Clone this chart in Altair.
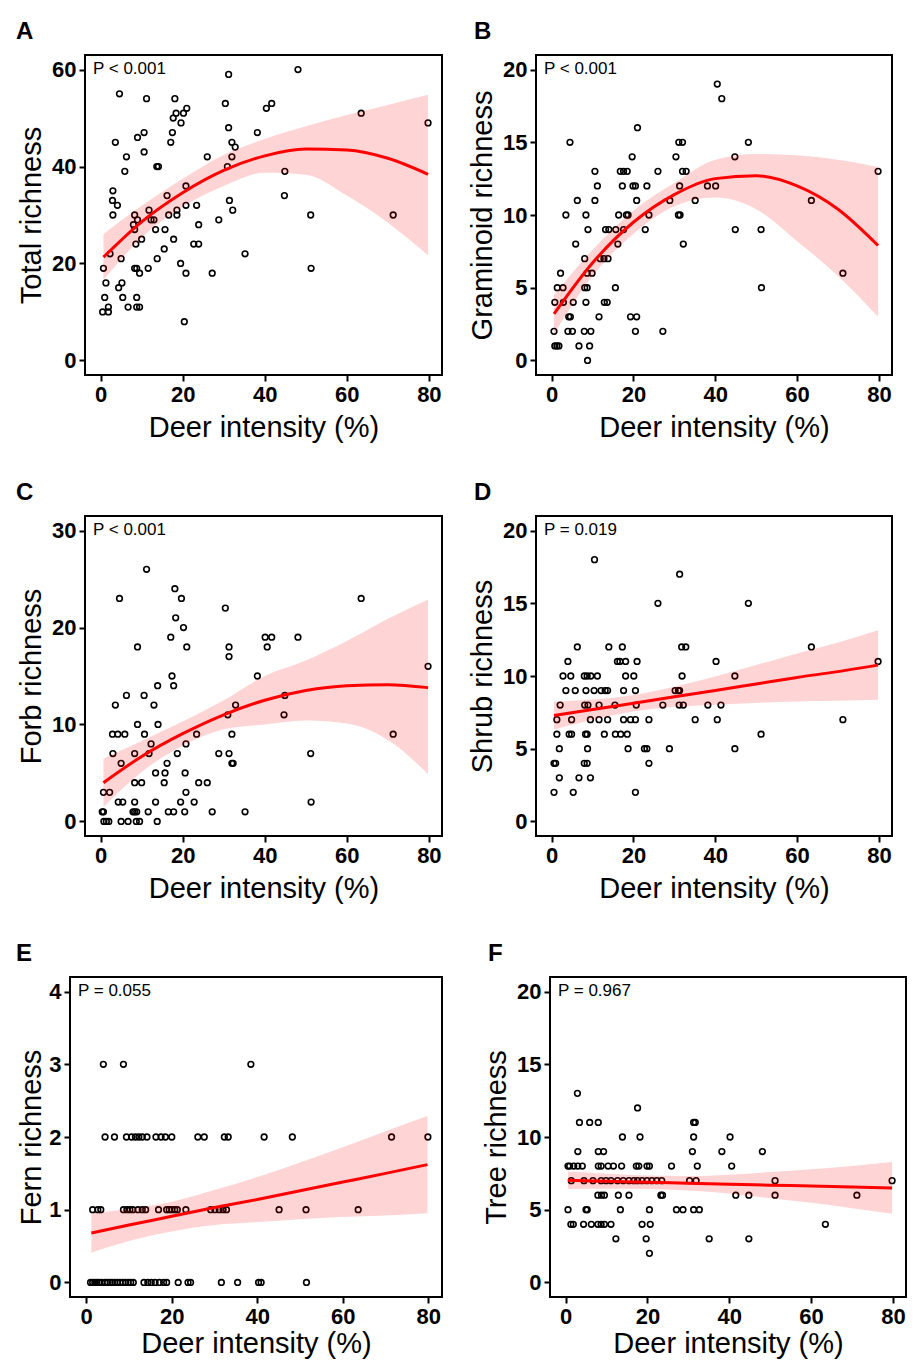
import altair as alt
import pandas as pd

FONT = "Liberation Sans"
XDOM = [-3.8, 83.2]
XTICKS = [0, 20, 40, 60, 80]
XTITLE = "Deer intensity (%)"

# ---------------- Panel A : Total richness ----------------
A_X = [31.2, 4.6, 11.2, 18.1, 30.4, 21.0, 20.2, 18.4, 17.7, 19.6, 31.2, 10.6, 17.5, 9.0, 38.2,
       3.6, 17.1, 32.0, 32.8, 10.6, 6.3, 26.0, 32.0, 13.7, 14.1, 30.9, 5.9, 20.8, 3.0, 16.2,
       2.9, 4.1, 31.4, 20.8, 23.4, 11.8, 18.6, 32.2, 3.0, 8.3, 16.6, 18.6, 9.0, 12.3, 13.0,
       28.8, 8.0, 23.9, 8.3, 13.4, 15.7, 10.0, 17.8, 8.6, 22.7, 23.9, 15.5, 2.3, 35.2, 5.0,
       13.8, 0.7, 8.3, 8.8, 11.6, 19.5, 9.5, 20.8, 27.2, 1.3, 5.2, 4.4, 1.0, 5.4, 8.8,
       1.9, 6.7, 8.8, 9.5, 0.5, 1.9, 20.4, 40.4, 41.7, 48.1, 63.5, 79.8, 44.9, 44.8, 51.2,
       71.3, 51.3]
A_Y = [59, 55, 54, 54, 53, 52, 51, 51, 50, 49, 48, 47, 47, 46, 47,
       45, 45, 45, 44, 43, 42, 42, 42, 40, 40, 40, 39, 36, 35, 34,
       33, 32, 33, 32, 32, 31, 31, 31, 30, 30, 30, 30, 29, 29, 29,
       29, 28, 28, 27, 27, 27, 25, 25, 24, 24, 24, 23, 22, 22, 21,
       21, 19, 19, 19, 19, 20, 18, 18, 18, 16, 16, 15, 13, 13, 13,
       11, 11, 11, 11, 10, 10, 8, 52, 53, 60, 51, 49, 39, 34, 30,
       30, 19]
A_CX = [0.7, 10, 20, 30, 40, 50, 60, 70, 79.8]
A_FIT = [21.3, 28.6, 34.6, 39.2, 42.2, 43.6, 43.4, 41.7, 38.4]
A_LO = [16.6, 25.3, 31.7, 36.0, 38.7, 38.3, 34.0, 28.4, 21.7]
A_HI = [26.1, 31.9, 37.5, 42.4, 45.7, 48.3, 50.6, 52.7, 54.8]

# ---------------- Panel B : Graminoid richness ----------------
B_X = [4.5, 21.0, 19.7, 30.4, 31.1, 32.0, 10.6, 16.8, 17.6, 18.5, 26.0, 32.0, 32.9, 11.2, 17.3,
       19.9, 20.5, 23.3, 31.3, 38.1, 40.1, 6.3, 10.6, 20.8, 28.9, 35.1, 3.5, 8.4, 16.4, 18.3,
       18.7, 23.8, 31.0, 31.4, 8.9, 13.2, 14.0, 15.7, 17.6, 22.9, 5.9, 16.2, 32.2, 8.1, 11.9,
       12.8, 13.8, 2.2, 8.7, 9.9, 1.4, 2.8, 8.1, 8.7, 15.6, 0.8, 2.9, 5.3, 8.4, 12.9,
       13.6, 4.2, 4.6, 11.6, 19.3, 20.8, 0.6, 4.0, 5.1, 8.0, 9.6, 20.5, 27.2, 0.8, 1.3,
       1.8, 6.7, 9.3, 8.8, 40.5, 41.6, 48.1, 44.8, 79.8, 63.5, 44.9, 51.2, 71.2, 51.3]
B_Y = [15, 16, 14, 14, 15, 15, 13, 13, 13, 13, 13, 13, 13, 12, 12,
       12, 12, 12, 12, 12, 12, 11, 11, 11, 11, 11, 10, 10, 10, 10,
       10, 10, 10, 10, 9, 9, 9, 9, 9, 9, 8, 8, 8, 7, 7,
       7, 7, 6, 6, 6, 5, 5, 5, 5, 5, 4, 4, 4, 4, 4,
       4, 3, 3, 3, 3, 3, 2, 2, 2, 2, 2, 2, 2, 1, 1,
       1, 1, 1, 0, 19, 18, 15, 14, 13, 11, 9, 9, 6, 5]
B_CX = [0.6, 10, 20, 30, 40, 50, 60, 70, 79.8]
B_FIT = [3.2, 6.7, 9.5, 11.4, 12.5, 12.7, 12.0, 10.4, 7.9]
B_LO = [1.8, 5.8, 8.7, 10.6, 11.2, 10.4, 8.2, 5.8, 3.0]
B_HI = [4.5, 7.6, 10.3, 12.2, 13.8, 14.2, 14.1, 13.8, 13.3]

# ---------------- Panel C : Forb richness ----------------
C_X = [11.2, 4.6, 18.1, 19.7, 30.4, 18.3, 20.2, 17.1, 9.0, 21.0, 31.3, 31.3, 17.4, 38.2, 13.9,
       17.8, 6.3, 10.6, 3.6, 13.0, 32.9, 9.0, 14.0, 31.0, 2.9, 4.2, 5.9, 10.7, 23.4, 32.0,
       12.3, 20.8, 3.0, 8.3, 11.8, 18.7, 28.8, 31.3, 5.0, 16.2, 32.0, 32.3, 13.4, 15.7, 20.6,
       8.3, 10.0, 15.5, 23.9, 26.0, 0.7, 2.2, 20.8, 4.3, 5.4, 8.3, 13.4, 19.5, 22.8, 0.4,
       0.7, 7.9, 8.3, 8.8, 11.6, 16.5, 17.8, 20.5, 27.2, 35.2, 0.8, 1.4, 2.0, 5.0, 6.7,
       8.7, 9.5, 13.8, 63.5, 40.1, 41.7, 48.1, 40.6, 79.8, 44.9, 44.7, 71.3, 51.2, 51.3]
C_Y = [26, 23, 24, 23, 22, 21, 20, 19, 18, 18, 18, 17, 15, 15, 14,
       14, 13, 13, 12, 12, 12, 10, 10, 11, 9, 9, 9, 9, 9, 9,
       8, 8, 7, 7, 7, 7, 7, 7, 6, 6, 6, 6, 5, 5, 5,
       4, 4, 4, 4, 4, 3, 3, 3, 2, 2, 2, 2, 2, 2, 1,
       1, 1, 1, 1, 1, 1, 1, 1, 1, 1, 0, 0, 0, 0, 0,
       0, 0, 0, 23, 19, 19, 19, 18, 16, 13, 11, 9, 7, 2]
C_CX = [0.7, 10, 20, 30, 40, 50, 60, 70, 79.8]
C_FIT = [4.0, 6.7, 9.05, 11.0, 12.5, 13.5, 14.0, 14.1, 13.8]
C_LO = [1.5, 5.1, 7.8, 9.5, 10.0, 10.4, 10.1, 8.4, 4.9]
C_HI = [6.5, 8.3, 10.3, 12.5, 15.0, 16.6, 18.6, 20.9, 22.9]

# ---------------- Panel D : Shrub richness (x values per richness level) ----------------
D_ROWS = {
    18: [10.5], 17: [31.3], 15: [26.0, 48.1],
    12: [6.3, 14.0, 17.3, 31.8, 32.8, 63.5],
    11: [4.0, 16.1, 16.7, 18.1, 20.9, 40.2, 79.8],
    10: [2.8, 4.7, 8.0, 8.7, 9.6, 11.2, 18.1, 20.1, 31.9, 44.8],
    9: [3.5, 5.8, 8.4, 10.4, 12.1, 13.1, 13.7, 17.6, 20.5, 30.2, 31.0, 31.3],
    8: [2.1, 8.1, 8.9, 11.6, 15.5, 20.7, 27.2, 31.2, 32.2, 38.2, 41.4],
    7: [1.3, 4.9, 9.5, 11.6, 13.7, 17.6, 19.3, 20.5, 23.8, 35.1, 40.5, 71.2],
    6: [1.3, 4.3, 4.9, 8.3, 8.7, 12.9, 15.6, 16.9, 18.5, 51.2],
    5: [1.9, 8.8, 18.7, 22.7, 23.3, 28.8, 44.8],
    4: [0.6, 1.0, 8.0, 8.7, 23.8],
    3: [1.9, 6.7, 9.5],
    2: [0.6, 5.3, 20.5],
}
D_CX = [0.6, 10, 20, 30, 40, 50, 60, 70, 79.8]
D_FIT = [7.28, 7.69, 8.13, 8.57, 9.0, 9.45, 9.9, 10.3, 10.75]
D_LO = [6.33, 7.0, 7.56, 7.88, 8.03, 8.15, 8.25, 8.3, 8.36]
D_HI = [8.23, 8.38, 8.7, 9.26, 9.97, 10.75, 11.55, 12.3, 13.14]

# ---------------- Panel E : Fern richness ----------------
E_ROWS = {
    3: [4.0, 8.7, 38.5],
    2: [4.4, 6.6, 9.4, 10.6, 11.5, 12.3, 13.1, 14.2, 16.3, 17.5, 18.5, 20.0, 26.1, 27.6,
        32.3, 33.2, 41.6, 48.2, 71.4, 79.9],
    1: [1.5, 2.7, 3.4, 8.7, 9.5, 10.2, 10.9, 12.1, 13.1, 13.9, 16.9, 18.8, 19.4, 20.0,
        20.7, 21.3, 23.3, 29.1, 30.1, 31.1, 32.0, 32.8, 45.1, 51.4, 63.6],
    0: [1.0, 1.5, 2.0, 2.5, 3.0, 3.6, 4.4, 5.0, 5.6, 6.1, 6.7, 7.3, 7.9, 8.6, 9.2, 9.8,
        10.4, 11.0, 13.5, 14.4, 15.2, 16.1, 17.1, 18.1, 18.8, 21.5, 23.8, 24.4, 31.6,
        35.4, 40.3, 40.9, 51.5],
}
E_CX = [1.2, 10, 20, 30, 40, 50, 60, 70, 79.8]
E_FIT = [0.68, 0.79, 0.91, 1.03, 1.14, 1.26, 1.38, 1.50, 1.62]
E_LO = [0.41, 0.57, 0.70, 0.79, 0.83, 0.87, 0.90, 0.92, 0.95]
E_HI = [0.95, 1.01, 1.11, 1.27, 1.45, 1.65, 1.86, 2.08, 2.29]

# ---------------- Panel F : Tree richness ----------------
F_ROWS = {
    13: [2.9], 12: [17.6],
    11: [3.4, 5.9, 8.0, 31.3, 31.7],
    10: [13.9, 18.2, 31.3, 40.2],
    9: [3.0, 8.0, 9.3, 31.0, 38.2, 48.1],
    8: [0.6, 1.0, 2.0, 3.0, 4.1, 8.0, 8.7, 10.4, 11.7, 13.7, 17.3, 17.9, 19.9, 20.5, 25.9,
        32.2, 40.6],
    7: [1.4, 4.5, 6.7, 8.7, 9.9, 11.1, 12.7, 14.1, 15.5, 16.7, 17.6, 18.7, 19.9, 21.1,
        22.3, 23.5, 30.3, 31.9, 51.2, 79.8],
    6: [7.9, 8.8, 9.5, 12.9, 15.5, 23.3, 23.7, 41.6, 44.8, 51.2, 71.2],
    5: [0.6, 5.0, 5.3, 13.4, 20.5, 27.1, 28.7, 31.3, 32.7],
    4: [1.3, 1.9, 4.4, 6.3, 7.9, 8.7, 9.5, 11.1, 18.7, 20.7, 63.5],
    3: [12.3, 19.7, 35.1, 44.8],
    2: [20.5],
}
F_CX = [0.6, 10, 20, 30, 40, 50, 60, 70, 79.8]
F_FIT = [7.02, 6.96, 6.89, 6.82, 6.76, 6.69, 6.63, 6.56, 6.50]
F_LO = [6.42, 6.44, 6.43, 6.32, 6.11, 5.79, 5.48, 5.11, 4.72]
F_HI = [7.62, 7.48, 7.35, 7.32, 7.41, 7.59, 7.78, 8.01, 8.28]


def rows_to_xy(rows):
    xs, ys = [], []
    for yv, xl in rows.items():
        for xv in xl:
            xs.append(xv)
            ys.append(yv)
    return xs, ys


def panel(letter, xs, ys, cx, cfit, clo, chi, ydom, yticks, ytitle, ptext, w, h, ytx,
          letter_x, xtitle_y, xrange=None, yoff=0):
    pts = pd.DataFrame({"x": xs, "y": ys})
    cur = pd.DataFrame({"x": cx, "fit": cfit, "lo": clo, "hi": chi})
    if xrange is None:
        xscale = alt.Scale(domain=XDOM, nice=False, zero=False)
    else:
        xscale = alt.Scale(domain=XDOM, range=xrange, nice=False, zero=False)
    yscale = alt.Scale(domain=ydom, nice=False, zero=False)
    xaxis = alt.Axis(values=XTICKS, title=XTITLE, titleY=xtitle_y, titleBaseline="middle")
    yaxis = alt.Axis(values=yticks, title=ytitle, titleX=ytx, titleBaseline="middle", offset=yoff)
    X = lambda f: alt.X(f, scale=xscale, axis=xaxis)
    Y = lambda f: alt.Y(f, scale=yscale, axis=yaxis)
    p = alt.Chart(pts).mark_point(shape="circle", filled=False, size=32, strokeWidth=1.6,
                                  color="black", opacity=1).encode(x=X("x:Q"), y=Y("y:Q"))
    band = alt.Chart(cur).mark_area(color="#ff0000", opacity=0.17, interpolate="monotone").encode(
        x=X("x:Q"), y=Y("lo:Q"), y2="hi:Q")
    line = alt.Chart(cur).mark_line(color="#ff0000", strokeWidth=3, interpolate="monotone").encode(
        x=X("x:Q"), y=Y("fit:Q"))
    px0 = 8 if xrange is None else xrange[0] + 8
    txt = alt.Chart(pd.DataFrame({"t": [ptext]})).mark_text(
        align="left", baseline="middle", fontSize=17, font=FONT, color="black").encode(
        x=alt.value(px0), y=alt.value(14), text="t:N")
    lab = alt.Chart(pd.DataFrame({"t": [letter]})).mark_text(
        align="left", baseline="top", fontSize=24, fontWeight="bold", font=FONT,
        color="black").encode(x=alt.value(letter_x), y=alt.value(-35), text="t:N")
    layers = [p, band, line, txt, lab]
    props = dict(width=w, height=h)
    if xrange is not None:
        frame = alt.Chart(pd.DataFrame({"x0": [XDOM[0]], "x1": [XDOM[1]],
                                        "y0": [ydom[0]], "y1": [ydom[1]]})).mark_rect(
            fillOpacity=0, stroke="black", strokeWidth=2).encode(
            x=X("x0:Q"), x2="x1:Q", y=Y("y0:Q"), y2="y1:Q")
        layers.append(frame)
        props["view"] = alt.ViewBackground(strokeOpacity=0)
    return alt.layer(*layers).properties(**props)


dx, dy = rows_to_xy(D_ROWS)
ex, ey = rows_to_xy(E_ROWS)
fx, fy = rows_to_xy(F_ROWS)

WL, WR, H = 357, 356, 320

pA = panel("A", A_X, A_Y, A_CX, A_FIT, A_LO, A_HI, [-3, 63], [0, 20, 40, 60], "Total richness",
           "P < 0.001", WL, H, -54, -69, 52)
pB = panel("B", B_X, B_Y, B_CX, B_FIT, B_LO, B_HI, [-1, 21], [0, 5, 10, 15, 20], "Graminoid richness",
           "P < 0.001", WR, H, -54, -62, 52)
pC = panel("C", C_X, C_Y, C_CX, C_FIT, C_LO, C_HI, [-1.5, 31.5], [0, 10, 20, 30], "Forb richness",
           "P < 0.001", WL, H, -54, -69, 52)
pD = panel("D", dx, dy, D_CX, D_FIT, D_LO, D_HI, [-1, 21], [0, 5, 10, 15, 20], "Shrub richness",
           "P = 0.019", WR, H, -54, -62, 52)
pE = panel("E", ex, ey, E_CX, E_FIT, E_LO, E_HI, [-0.2, 4.2], [0, 1, 2, 3, 4], "Fern richness",
           "P = 0.055", WL, H, -39, -69, 46, xrange=[-15, WL], yoff=15)
pF = panel("F", fx, fy, F_CX, F_FIT, F_LO, F_HI, [-1, 21], [0, 5, 10, 15, 20], "Tree richness",
           "P = 0.967", WR, H, -54, -62, 46)

row1 = alt.hconcat(pA, pB, spacing=24)
row2 = alt.hconcat(pC, pD, spacing=24)
row3 = alt.hconcat(pE, pF, spacing=24)

chart = alt.vconcat(row1, row2, row3, spacing=37).properties(
    padding={"left": 7, "top": 11, "right": 0, "bottom": 0}
).configure_axis(
    labelFont=FONT, labelFontSize=22, labelFontWeight="bold", labelColor="black",
    titleFont=FONT, titleFontSize=29, titleFontWeight="normal", titleColor="black",
    tickColor="black", tickSize=6, tickWidth=2, domain=False, grid=False, labelPadding=3
).configure_view(stroke="black", strokeWidth=2)

chart.save("out.html", embed_options={"renderer": "svg", "actions": False})
